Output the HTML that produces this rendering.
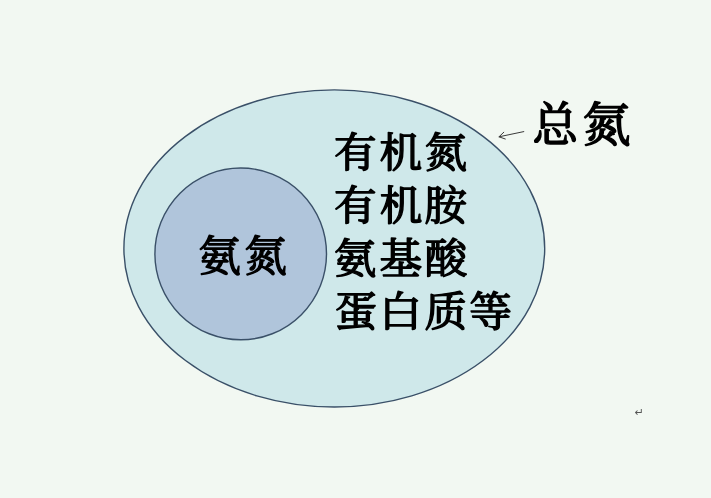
<!DOCTYPE html>
<html lang="zh-CN">
<head>
<meta charset="utf-8">
<title>总氮</title>
<style>
html,body{margin:0;padding:0;background:#f2f8f2;}
body{width:711px;height:498px;overflow:hidden;position:relative;}
svg{position:absolute;left:0;top:0;display:block;will-change:transform;}
text{font-family:"Liberation Serif","Noto Serif CJK SC",serif;font-weight:400;fill:#000;stroke:#000;stroke-width:1.5px;stroke-linejoin:round;}
text.t{stroke-width:1.7px;}
</style>
</head>
<body>
<svg width="711" height="498" viewBox="0 0 711 498">
  <ellipse cx="334.3" cy="248.45" rx="210.4" ry="158.55" fill="#cfe8ea" stroke="#3a5068" stroke-width="1.4"/>
  <ellipse cx="240.7" cy="253.9" rx="85.8" ry="85.9" fill="#b0c5db" stroke="#3a5068" stroke-width="1.4"/>
  <text transform="translate(0 166.7) scale(1 0.97)" x="334.1 379.6 424.4" y="0" font-size="42.6">有机氮</text>
  <text transform="translate(0 220.1) scale(1 0.97)" x="334.1 379.7 424.3" y="0" font-size="42.6">有机胺</text>
  <text transform="translate(0 273.1) scale(1 0.97)" x="333.8 379.5 424.8" y="0" font-size="42.6">氨基酸</text>
  <text transform="translate(0 326.1) scale(1 0.95)" x="334.6 379.2 424.5 469.3" y="0" font-size="42.6">蛋白质等</text>
  <text transform="translate(0 270.6) scale(1 0.975)" x="198.2 244.2" y="0" font-size="42.6">氨氮</text>
  <text class="t" transform="translate(0 141.2) scale(1 0.975)" y="0" font-size="48.0"><tspan x="532.5" textLength="45.6" lengthAdjust="spacingAndGlyphs">总</tspan><tspan x="582.4">氮</tspan></text>
  <g fill="none" stroke="#3a3a3a" stroke-width="1" stroke-linecap="round" stroke-linejoin="round">
    <path d="M523.8 131.6 L499 136.8"/>
    <path d="M503.8 132.2 L499 136.8 L505.3 139"/>
  </g>
  <text x="634.7" y="415.6" font-size="11" style="font-weight:400;fill:#555;stroke:none;font-family:'Liberation Sans','DejaVu Sans',sans-serif">↵</text>
</svg>
</body>
</html>
